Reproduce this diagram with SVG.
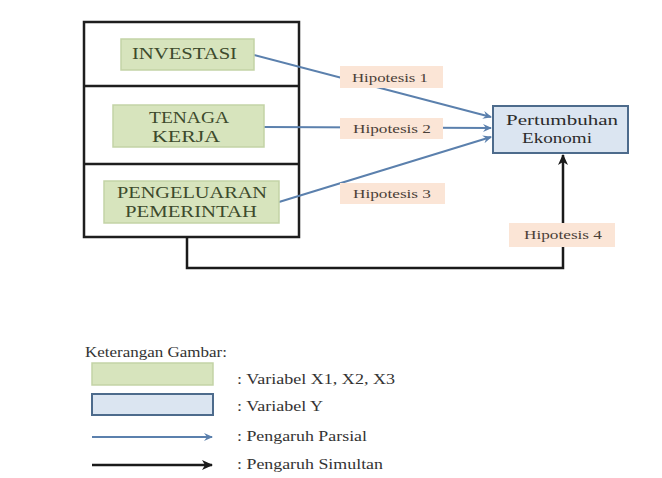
<svg xmlns="http://www.w3.org/2000/svg" width="662" height="478" viewBox="0 0 662 478" font-family="Liberation Serif, Times New Roman, serif">
<style>
.xbox{fill:#d7e4bd;stroke:#c3d3a6;stroke-width:1.5;}
.xt{fill:#3d4a2c;font-size:16px;font-family:"Liberation Serif",serif;}
.ybox{fill:#dbe5f1;stroke:#4d6b8c;stroke-width:2;}
.yt{fill:#2b2b2b;font-size:15px;font-family:"Liberation Serif",serif;}
.hbox{fill:#fbe5d6;stroke:none;}
.ht{fill:#4a4038;font-size:13px;font-family:"Liberation Serif",serif;}
.lt{fill:#333;font-size:14.5px;font-family:"Liberation Serif",serif;}
.part{stroke:#5b80ad;stroke-width:2;fill:none;}
.sim{stroke:#1a1a1a;stroke-width:2.5;fill:none;}
</style>
<defs>
<marker id="ab" markerWidth="10" markerHeight="10" refX="8" refY="5" orient="auto" markerUnits="userSpaceOnUse">
<path d="M0,1 L9,5 L0,9 L3,5 Z" fill="#5b80ad"/>
</marker>
<marker id="ak" markerWidth="12" markerHeight="12" refX="10" refY="6" orient="auto" markerUnits="userSpaceOnUse">
<path d="M0,1 L11,6 L0,11 L3,6 Z" fill="#1a1a1a"/>
</marker>
</defs>
<rect width="662" height="478" fill="#ffffff"/>

<g id="frame">
<rect x="84" y="22" width="215" height="215" fill="#ffffff" stroke="#1e1e1e" stroke-width="2.5"/>
<line x1="84" y1="86" x2="299" y2="86" stroke="#1e1e1e" stroke-width="2.5"/>
<line x1="84" y1="164" x2="299" y2="164" stroke="#1e1e1e" stroke-width="2.5"/>
</g>

<g id="connectors">
<line class="part" x1="254" y1="55" x2="491" y2="117" marker-end="url(#ab)"/>
<line class="part" x1="264" y1="127" x2="491" y2="128" marker-end="url(#ab)"/>
<line class="part" x1="279" y1="202" x2="491" y2="137" marker-end="url(#ab)"/>
<polyline class="sim" points="187,237 187,268 563,268 563,155" marker-end="url(#ak)"/>
</g>

<g id="investasi">
<rect class="xbox" x="121" y="39" width="133" height="31"/>
<text class="xt" x="132" y="59" textLength="105" lengthAdjust="spacingAndGlyphs">INVESTASI</text>
</g>
<g id="tenaga-kerja">
<rect class="xbox" x="113" y="105" width="151" height="42"/>
<text class="xt" x="149" y="123" textLength="80" lengthAdjust="spacingAndGlyphs">TENAGA</text>
<text class="xt" x="152" y="142" textLength="68" lengthAdjust="spacingAndGlyphs">KERJA</text>
</g>
<g id="pengeluaran">
<rect class="xbox" x="104" y="181" width="175" height="42"/>
<text class="xt" x="117" y="198" textLength="150" lengthAdjust="spacingAndGlyphs">PENGELUARAN</text>
<text class="xt" x="125" y="217" textLength="132" lengthAdjust="spacingAndGlyphs">PEMERINTAH</text>
</g>
<g id="pertumbuhan">
<rect class="ybox" x="493" y="106" width="135" height="47"/>
<text class="yt" x="506" y="125" textLength="112" lengthAdjust="spacingAndGlyphs">Pertumbuhan</text>
<text class="yt" x="522" y="143" textLength="70" lengthAdjust="spacingAndGlyphs">Ekonomi</text>
</g>

<g id="hipotesis-1">
<rect class="hbox" x="340" y="66" width="103" height="22"/>
<text class="ht" x="352" y="82" textLength="76" lengthAdjust="spacingAndGlyphs">Hipotesis 1</text>
</g>
<g id="hipotesis-2">
<rect class="hbox" x="340" y="118" width="103" height="21"/>
<text class="ht" x="353" y="133" textLength="78" lengthAdjust="spacingAndGlyphs">Hipotesis 2</text>
</g>
<g id="hipotesis-3">
<rect class="hbox" x="340" y="183" width="105" height="21"/>
<text class="ht" x="353" y="198" textLength="78" lengthAdjust="spacingAndGlyphs">Hipotesis 3</text>
</g>
<g id="hipotesis-4">
<rect class="hbox" x="509" y="223" width="106" height="24"/>
<text class="ht" x="524" y="239" textLength="78" lengthAdjust="spacingAndGlyphs">Hipotesis 4</text>
</g>

<g id="legend">
<text class="lt" x="85" y="357" textLength="142" lengthAdjust="spacingAndGlyphs">Keterangan Gambar:</text>
<rect class="xbox" x="92" y="363" width="121" height="22"/>
<text class="lt" x="237" y="384" textLength="158" lengthAdjust="spacingAndGlyphs">: Variabel X1, X2, X3</text>
<rect class="ybox" x="92" y="394" width="121" height="21"/>
<text class="lt" x="237" y="411" textLength="86" lengthAdjust="spacingAndGlyphs">: Variabel Y</text>
<line class="part" x1="92" y1="437" x2="212" y2="437" marker-end="url(#ab)"/>
<text class="lt" x="237" y="441" textLength="130" lengthAdjust="spacingAndGlyphs">: Pengaruh Parsial</text>
<line class="sim" x1="92" y1="465" x2="212" y2="465" marker-end="url(#ak)"/>
<text class="lt" x="237" y="469" textLength="146" lengthAdjust="spacingAndGlyphs">: Pengaruh Simultan</text>
</g>
</svg>
